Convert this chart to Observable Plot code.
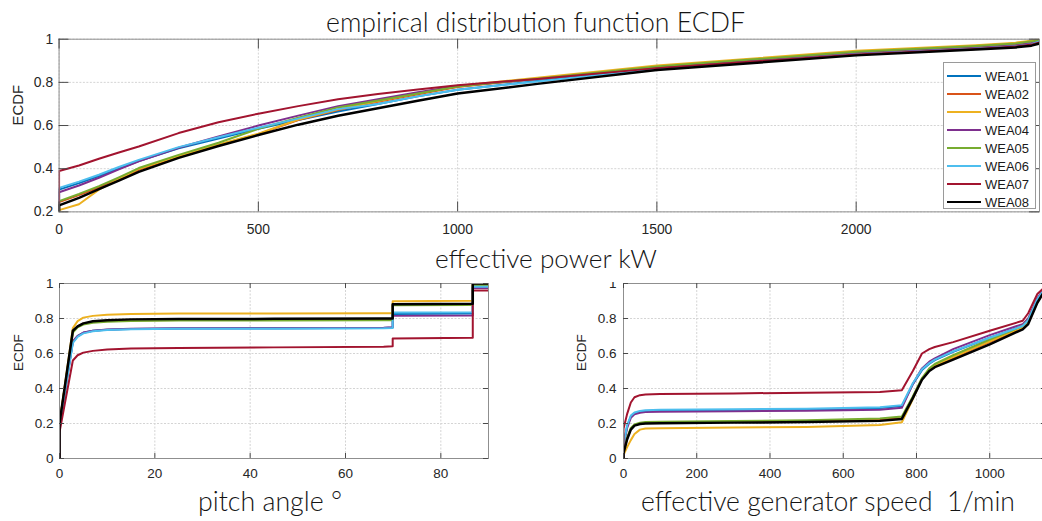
<!DOCTYPE html>
<html><head><meta charset="utf-8">
<script src="https://cdn.jsdelivr.net/npm/d3@7"></script>
<script src="https://cdn.jsdelivr.net/npm/@observablehq/plot@0.6"></script>
<style>
html,body{margin:0;padding:0;background:#fff;}
#page{position:relative;width:1042px;height:521px;overflow:hidden;background:#fff;}
#page svg{position:absolute;overflow:visible;}
</style></head><body><div id="page"></div>
<script>
// ---------- data ----------
const names = ["WEA01","WEA02","WEA03","WEA04","WEA05","WEA06","WEA07","WEA08"];
const colors = ["#0072BD","#D95319","#EDB120","#7E2F8E","#77AC30","#4DBEEE","#A2142F","#000000"];

// effective power kW
const powerX = [0, 0, 50, 100, 150, 200, 300, 400, 500, 600, 700, 800, 900, 1000, 1200, 1500, 2000, 2300, 2400, 2440, 2460];
const powerSeries = [
  [0, 0.303, 0.333, 0.366, 0.400, 0.435, 0.494, 0.540, 0.585, 0.625, 0.665, 0.700, 0.735, 0.766, 0.806, 0.866, 0.933, 0.958, 0.969, 0.978, 0.990],
  [0, 0.245, 0.278, 0.313, 0.352, 0.395, 0.455, 0.510, 0.560, 0.625, 0.672, 0.710, 0.745, 0.778, 0.818, 0.874, 0.942, 0.968, 0.980, 0.990, 0.997],
  [0, 0.208, 0.235, 0.303, 0.352, 0.400, 0.458, 0.512, 0.562, 0.628, 0.675, 0.714, 0.750, 0.783, 0.822, 0.878, 0.946, 0.972, 0.984, 0.993, 0.999],
  [0, 0.291, 0.322, 0.358, 0.397, 0.434, 0.497, 0.549, 0.600, 0.646, 0.690, 0.722, 0.754, 0.783, 0.815, 0.870, 0.936, 0.962, 0.973, 0.983, 0.993],
  [0, 0.250, 0.283, 0.319, 0.360, 0.403, 0.464, 0.520, 0.585, 0.636, 0.684, 0.716, 0.748, 0.781, 0.817, 0.874, 0.942, 0.968, 0.980, 0.990, 0.996],
  [0, 0.311, 0.340, 0.372, 0.408, 0.441, 0.500, 0.546, 0.590, 0.632, 0.676, 0.700, 0.735, 0.766, 0.804, 0.862, 0.930, 0.956, 0.967, 0.977, 0.990],
  [0, 0.389, 0.415, 0.446, 0.475, 0.503, 0.565, 0.615, 0.655, 0.690, 0.722, 0.746, 0.767, 0.787, 0.816, 0.866, 0.929, 0.955, 0.966, 0.975, 0.985],
  [0, 0.230, 0.265, 0.305, 0.345, 0.385, 0.450, 0.505, 0.556, 0.604, 0.645, 0.680, 0.715, 0.748, 0.793, 0.857, 0.925, 0.952, 0.962, 0.970, 0.980]
];
const powerXTicks = [0, 500, 1000, 1500, 2000];
const powerYTicks = [0.2, 0.4, 0.6, 0.8, 1];

// pitch angle °
const pitchX = [0, 0, 2.8, 3.8, 5, 7, 10, 15, 25, 45, 68, 69.9, 69.9, 86.7, 86.7, 90];
const pitchSeries = [
  [0, 0.19, 0.665, 0.700, 0.718, 0.730, 0.736, 0.740, 0.743, 0.744, 0.746, 0.748, 0.826, 0.828, 0.978, 0.978],
  [0, 0.20, 0.725, 0.755, 0.770, 0.780, 0.786, 0.790, 0.792, 0.793, 0.795, 0.795, 0.879, 0.881, 0.995, 0.995],
  [0, 0.20, 0.745, 0.785, 0.805, 0.815, 0.822, 0.826, 0.828, 0.829, 0.830, 0.830, 0.899, 0.902, 1.000, 1.000],
  [0, 0.19, 0.670, 0.700, 0.720, 0.730, 0.737, 0.741, 0.744, 0.745, 0.747, 0.750, 0.815, 0.817, 0.975, 0.975],
  [0, 0.20, 0.720, 0.750, 0.765, 0.776, 0.782, 0.786, 0.788, 0.789, 0.790, 0.790, 0.875, 0.877, 0.990, 0.990],
  [0, 0.19, 0.660, 0.695, 0.715, 0.727, 0.734, 0.738, 0.741, 0.742, 0.744, 0.746, 0.834, 0.836, 0.982, 0.982],
  [0, 0.15, 0.560, 0.590, 0.605, 0.615, 0.623, 0.628, 0.632, 0.635, 0.638, 0.642, 0.686, 0.690, 0.960, 0.960],
  [0, 0.20, 0.730, 0.755, 0.772, 0.784, 0.790, 0.795, 0.797, 0.798, 0.800, 0.800, 0.882, 0.884, 1.000, 1.000]
];
const pitchXTicks = [0, 20, 40, 60, 80];
const ecdfTicks = [0, 0.2, 0.4, 0.6, 0.8, 1];

// effective generator speed 1/min
const speedX = [0, 0, 10, 20, 30, 45, 60, 100, 300, 500, 700, 760, 790, 815, 835, 850, 900, 1000, 1090, 1105, 1130, 1150];
const speedSeries = [
  [0, 0.08, 0.185, 0.240, 0.258, 0.267, 0.271, 0.273, 0.276, 0.279, 0.288, 0.300, 0.425, 0.505, 0.542, 0.562, 0.610, 0.690, 0.757, 0.790, 0.910, 0.970],
  [0, 0.04, 0.115, 0.170, 0.190, 0.200, 0.204, 0.206, 0.210, 0.214, 0.222, 0.232, 0.350, 0.455, 0.505, 0.530, 0.575, 0.665, 0.745, 0.775, 0.895, 0.965],
  [0, 0.02, 0.065, 0.105, 0.140, 0.165, 0.171, 0.173, 0.177, 0.180, 0.192, 0.207, 0.340, 0.455, 0.510, 0.532, 0.580, 0.670, 0.750, 0.780, 0.900, 0.970],
  [0, 0.07, 0.175, 0.232, 0.252, 0.261, 0.265, 0.267, 0.270, 0.273, 0.278, 0.290, 0.425, 0.515, 0.553, 0.572, 0.625, 0.705, 0.768, 0.800, 0.915, 0.975],
  [0, 0.04, 0.120, 0.175, 0.195, 0.205, 0.208, 0.210, 0.214, 0.218, 0.229, 0.240, 0.355, 0.460, 0.515, 0.540, 0.590, 0.680, 0.758, 0.790, 0.900, 0.968],
  [0, 0.08, 0.190, 0.245, 0.263, 0.272, 0.276, 0.278, 0.281, 0.284, 0.293, 0.305, 0.430, 0.510, 0.545, 0.565, 0.612, 0.690, 0.757, 0.790, 0.910, 0.970],
  [0, 0.17, 0.255, 0.320, 0.350, 0.362, 0.366, 0.368, 0.372, 0.376, 0.380, 0.390, 0.500, 0.600, 0.625, 0.637, 0.665, 0.730, 0.787, 0.830, 0.940, 0.980],
  [0, 0.03, 0.110, 0.165, 0.188, 0.197, 0.200, 0.202, 0.205, 0.208, 0.215, 0.226, 0.345, 0.450, 0.500, 0.522, 0.565, 0.652, 0.738, 0.768, 0.890, 0.958]
];
const speedXTicks = [0, 200, 400, 600, 800, 1000];

const titleText = "empirical distribution function ECDF";
const xLabels = ["effective power kW", "pitch angle °", "effective generator speed  1/min"];
const yLabel = "ECDF";

// ---------- drawing ----------
const page = document.getElementById("page");
const gridColor = "#d4d4d4";
const frameColor = "#8f8f8f";
const tickColor = "#4a4a4a";
const textColor = "#262626";
const fmt = d => String(d);

function panel(o) {
  const fw = o.width - o.ml - o.mr, fh = o.height - o.mt - o.mb;
  const marks = [
    Plot.gridX(o.xTicks, {stroke: gridColor, strokeOpacity: 1, strokeDasharray: "2,1.5"}),
    Plot.gridY(o.yTicks, {stroke: gridColor, strokeOpacity: 1, strokeDasharray: "2,1.5"})
  ];
  o.series.forEach((vals, i) => {
    const rows = vals.map((v, j) => ({x: o.xs[j], y: v}));
    marks.push(Plot.line(rows, {x: "x", y: "y", stroke: colors[i],
      strokeWidth: i === 7 ? o.sw + 0.5 : o.sw, clip: true, strokeLinejoin: "round"}));
  });
  marks.push(
    Plot.frame({stroke: frameColor}),
    Plot.tickX(o.xTicks, {x: d => d, stroke: tickColor, insetTop: fh - o.tl}),
    Plot.tickX(o.xTicks, {x: d => d, stroke: tickColor, insetBottom: fh - o.tl}),
    Plot.tickY(o.yTicks, {y: d => d, stroke: tickColor, insetRight: fw - o.tl}),
    Plot.tickY(o.yTicks, {y: d => d, stroke: tickColor, insetLeft: fw - o.tl}),
    Plot.axisX(o.xTicks, {tickSize: 0, tickPadding: o.xPad, tickFormat: fmt, fontSize: o.fs, fill: textColor, label: null}),
    Plot.axisY(o.yTicks, {tickSize: 0, tickPadding: o.yPad, tickFormat: fmt, fontSize: o.fs, fill: textColor, label: null}),
    Plot.text([yLabel], {text: d => d, frameAnchor: "left", rotate: -90, dx: -o.lo, fontSize: o.lfs, fill: textColor})
  );
  const svg = Plot.plot({
    width: o.width, height: o.height,
    marginTop: o.mt, marginBottom: o.mb, marginLeft: o.ml, marginRight: o.mr,
    x: {domain: o.xDomain, label: null}, y: {domain: o.yDomain, label: null},
    style: {fontFamily: "'Liberation Sans', Arial, sans-serif", background: "transparent", color: textColor},
    marks
  });
  svg.style.left = o.left + "px";
  svg.style.top = o.top + "px";
  page.appendChild(svg);
}

panel({left: 0, top: 0, width: 1050, height: 240, mt: 39, mb: 27, ml: 59, mr: 3,
  xDomain: [0, 2460], yDomain: [0.2, 1], xTicks: powerXTicks, yTicks: powerYTicks,
  xs: powerX, series: powerSeries, sw: 2, tl: 10, fs: 14, lfs: 15, lo: 41, xPad: 12, yPad: 6});

panel({left: 0, top: 260, width: 500, height: 228, mt: 23, mb: 30, ml: 59, mr: 12,
  xDomain: [0, 90], yDomain: [0, 1], xTicks: pitchXTicks, yTicks: ecdfTicks,
  xs: pitchX, series: pitchSeries, sw: 2, tl: 5, fs: 13.5, lfs: 13.5, lo: 41, xPad: 10, yPad: 6});

panel({left: 560, top: 260, width: 490, height: 228, mt: 23, mb: 30, ml: 63, mr: 4,
  xDomain: [0, 1155], yDomain: [0, 1], xTicks: speedXTicks, yTicks: ecdfTicks,
  xs: speedX, series: speedSeries, sw: 2, tl: 5, fs: 13.5, lfs: 13.5, lo: 42, xPad: 10, yPad: 7});

// legend
const legend = document.createElement("div");
legend.style.cssText = "position:absolute;left:943px;top:62px;width:93px;height:147px;border:1px solid #9a9a9a;background:#fff;box-sizing:border-box;";
names.forEach((n, i) => {
  const row = document.createElement("div");
  row.style.cssText = `position:absolute;left:3px;top:${4 + i * 18}px;height:18px;display:flex;align-items:center;font:13px 'Liberation Sans',Arial,sans-serif;color:#1a1a1a;`;
  row.innerHTML = `<span style="display:inline-block;width:34px;height:2px;background:${colors[i]};margin-right:4px"></span>${n}`;
  legend.appendChild(row);
});
page.appendChild(legend);

// overlay texts
const ov = d3.create("svg").attr("width", 1042).attr("height", 521).style("left", "0px").style("top", "0px").style("pointer-events", "none");
ov.append("rect").attr("x", 430).attr("y", 246).attr("width", 235).attr("height", 36).attr("fill", "#fff");
const texts = [
  {t: titleText, cx: 535.5, y: 32, w: 419},
  {t: xLabels[0], cx: 546, y: 268, w: 222},
  {t: xLabels[1], cx: 270, y: 511, w: 144},
  {t: xLabels[2], cx: 828, y: 511, w: 374}
];
page.appendChild(ov.node());
texts.forEach(d => {
  const el = ov.append("text").attr("x", d.cx).attr("y", d.y).attr("text-anchor", "middle")
    .style("white-space", "pre").attr("fill", "#141414")
    .style("font-family", "Lato, 'Open Sans', sans-serif").style("font-weight", 300)
    .style("font-size", "26px").text(d.t);
  const w = el.node().getComputedTextLength();
  el.style("font-size", (26 * d.w / w).toFixed(2) + "px");
});
</script></body></html>
